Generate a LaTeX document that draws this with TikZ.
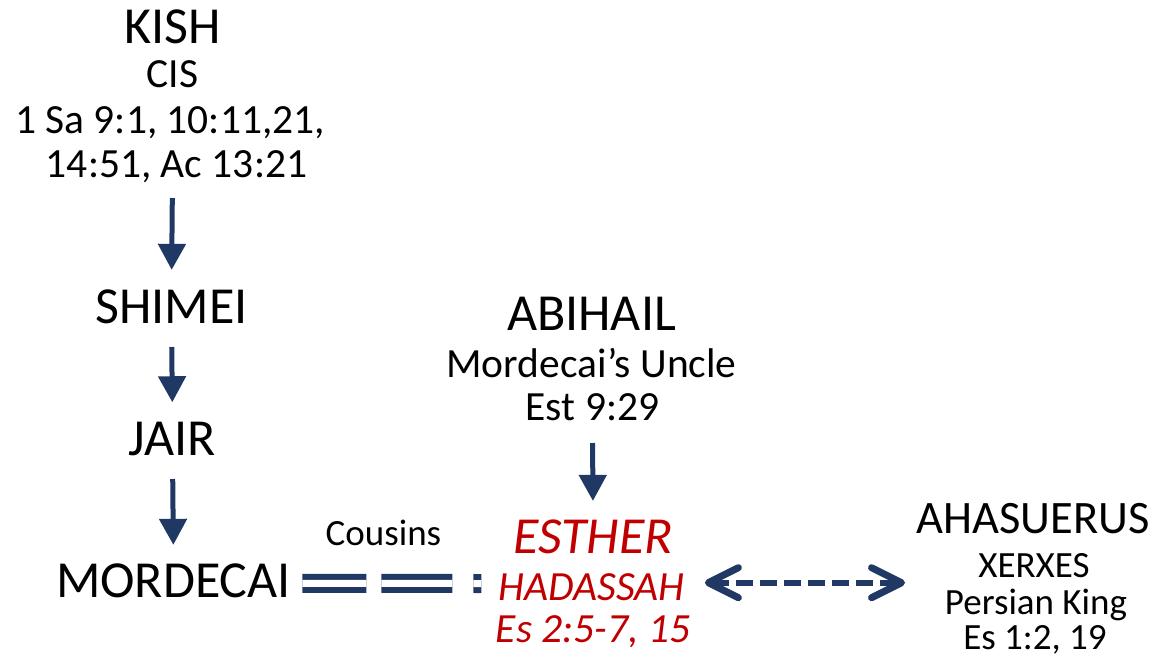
\documentclass[tikz,border=0pt]{standalone}
\usepackage{fontspec}
\setmainfont{Carlito}
\usetikzlibrary{arrows.meta}
\definecolor{lineNavy}{RGB}{31,56,100}
\definecolor{queenRed}{RGB}{192,0,0}

\begin{document}
\begin{tikzpicture}[x=0.5pt, y=-0.5pt,
    person/.style={anchor=base, inner sep=0pt, font=\fontsize{26}{31}\selectfont},
    detail/.style={anchor=base, inner sep=0pt, font=\fontsize{20.75}{25}\selectfont},
    queen/.style={text=queenRed, font=\fontsize{26}{31}\selectfont\itshape},
    queendetail/.style={text=queenRed, font=\fontsize{20.75}{25}\selectfont\itshape},
    king/.style={anchor=base, inner sep=0pt, font=\fontsize{23.25}{28}\selectfont},
    kingdetail/.style={anchor=base, inner sep=0pt, font=\fontsize{18.5}{22}\selectfont},
    kin/.style={draw=lineNavy, line width=2.5pt, -{Triangle[length=13pt, width=13.5pt]}},
    cousin/.style={draw=lineNavy, line width=3pt, double=white, double distance=3.5pt,
        dash pattern=on 32pt off 7.5pt on 35.5pt off 10.5pt on 4pt off 60pt},
    marriage/.style={draw=lineNavy, line width=3pt, dash pattern=on 8.5pt off 3.5pt,
        {Straight Barb[length=15pt, width=15pt, line width=3.5pt, round]}-{Straight Barb[length=15pt, width=15pt, line width=3.5pt, round]}}]
    \useasboundingbox (0,0) rectangle (1157,659);

    % Kish line
    \node[person] (kish) at (172.5,43) {KISH};
    \node[detail] (kishalt) at (172.5,87) {CIS};
    \node[detail] (kishref1) at (170,133) {1 Sa 9:1, 10:11,21,};
    \node[detail] (kishref2) at (176.5,177) {14:51, Ac 13:21};
    \node[person] (shimei) at (171.5,323) {SHIMEI};
    \node[person] (jair) at (172.5,455) {JAIR};
    \node[person] (mord) at (173.5,597) {MORDECAI};

    % Abihail and Esther
    \node[person] (abihail) at (591.5,330) {ABIHAIL};
    \node[detail] (abihailrel) at (591.5,377) {Mordecai’s Uncle};
    \node[detail] (abihailref) at (592.5,420) {Est 9:29};
    \node[person, queen] (esther) at (593,553) {ESTHER};
    \node[detail, queendetail] (hadassah) at (591.5,600) {HADASSAH};
    \node[detail, queendetail] (estherref) at (593,642) {Es 2:5-7, 15};

    % Ahasuerus
    \node[king] (ahas) at (1033,533) {AHASUERUS};
    \node[kingdetail] (ahasalt) at (1034,577) {XERXES};
    \node[kingdetail] (ahasrel) at (1036,614) {Persian King};
    \node[kingdetail] (ahasref) at (1035,649) {Es 1:2, 19};

    \node[kingdetail] (cousins) at (383.5,545) {Cousins};

    % Descent
    \draw[kin, shorten <=10.5pt, shorten >=9.5pt] (kishref2.base -| kish.base) -- (shimei.north);
    \draw[kin, shorten <=12pt, shorten >=9.5pt] (shimei.base) -- (jair.north);
    \draw[kin, shorten <=12pt, shorten >=9pt] (jair.base) -- (mord.north);
    \draw[kin, shorten <=11.5pt, shorten >=9pt] (abihailref.base) -- (esther.north);

    % Cousins
    \path (mord.east) ++(0,3) coordinate (cousinL);
    \coordinate (cousinR) at (482,583.5);
    \draw[cousin, shorten <=5.5pt] (cousinL) -- (cousinR);

    % Marriage
    \path (hadassah.east) ++(0,-4) coordinate (wedL);
    \draw[marriage, shorten <=10pt, shorten >=5.5pt] (wedL) -- (wedL -| ahas.west);
\end{tikzpicture}
\end{document}
